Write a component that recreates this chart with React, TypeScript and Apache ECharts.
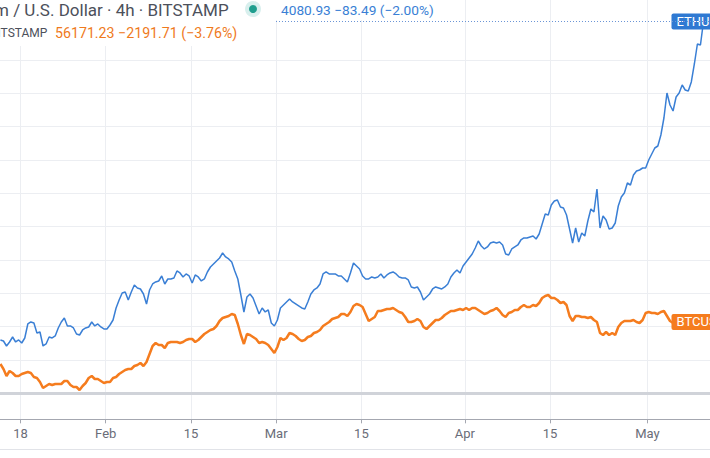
import React, { useEffect, useRef } from 'react';
import * as echarts from 'echarts';

// x values are day-of-year 2021 (Jan 1 = 1); y values are % units on the comparison scale
const START_DAY = 14.7;
const STEP_DAYS = 0.5;
const X_MIN = 14.63;
const X_MAX = 131.27;
const Y_MAX = 236;

const TICK_DAYS = [18, 32, 46, 60, 74, 91, 105, 121];
const TICK_LABELS = ['18', 'Feb', '15', 'Mar', '15', 'Apr', '15', 'May'];

const ETH = [
  32.0, 31.4, 28.4, 30.8, 33.8, 30.8, 32.0, 30.2, 33.2, 41.6,
  42.8, 42.2, 36.2, 36.8, 28.4, 29.6, 33.8, 33.2, 34.4, 39.2,
  42.8, 45.2, 40.4, 40.4, 39.2, 35.6, 35.0, 38.0, 39.2, 39.8,
  42.8, 40.4, 41.6, 39.8, 38.6, 38.6, 41.0, 44.0, 51.2, 56.0,
  60.2, 60.8, 56.0, 60.8, 65.0, 63.2, 62.6, 59.6, 53.6, 62.0,
  65.6, 66.8, 67.4, 70.4, 65.6, 68.6, 68.6, 69.2, 73.4, 72.2,
  69.8, 71.6, 70.4, 66.2, 71.0, 69.8, 67.4, 68.6, 72.8, 75.8,
  77.6, 79.4, 81.2, 84.2, 81.8, 80.6, 78.8, 73.4, 68.6, 59.0,
  48.8, 57.8, 59.6, 57.2, 52.4, 47.6, 51.2, 48.8, 50.0, 42.2,
  40.4, 44.0, 51.2, 53.0, 54.8, 56.6, 54.8, 53.6, 52.4, 51.2,
  50.6, 54.8, 59.6, 62.0, 63.2, 65.6, 71.6, 72.8, 71.6, 71.6,
  71.6, 70.4, 70.4, 68.6, 66.8, 72.2, 78.2, 76.4, 74.6, 70.4,
  68.6, 68.6, 69.8, 69.2, 69.8, 71.6, 69.2, 71.0, 72.2, 72.8,
  71.6, 69.8, 69.2, 69.2, 68.0, 63.8, 63.2, 63.8, 60.8, 56.0,
  57.8, 59.6, 62.6, 63.8, 63.2, 62.6, 63.8, 65.6, 69.8, 72.2,
  74.0, 72.2, 76.4, 78.8, 81.2, 83.6, 87.2, 91.4, 88.4, 86.6,
  87.8, 90.2, 90.8, 90.2, 90.8, 89.0, 83.6, 83.0, 86.6, 87.8,
  89.0, 92.0, 93.2, 93.2, 93.8, 94.4, 92.6, 95.6, 101.6, 107.6,
  107.0, 113.0, 115.4, 116.0, 111.8, 111.2, 107.0, 98.6, 90.2, 99.2,
  90.8, 96.2, 94.4, 103.4, 110.6, 108.8, 122.6, 99.2, 106.4, 104.0,
  98.6, 99.2, 102.2, 112.4, 117.8, 120.2, 126.2, 125.0, 131.0, 133.4,
  134.0, 135.2, 135.2, 140.0, 143.6, 147.2, 148.4, 155.0, 165.2, 180.2,
  173.0, 169.4, 177.8, 180.2, 185.0, 182.0, 181.4, 186.8, 197.6, 209.6,
  209.0, 223.1,
];

const BTC = [
  17.6, 14.6, 10.4, 13.4, 12.2, 10.4, 10.4, 11.6, 12.2, 12.8,
  12.2, 9.8, 9.2, 6.8, 3.2, 4.4, 5.6, 5.0, 5.6, 5.6,
  5.6, 7.4, 7.4, 5.0, 3.8, 3.8, 2.0, 4.4, 6.2, 9.2,
  10.4, 8.6, 8.6, 7.4, 6.2, 6.8, 6.8, 9.2, 9.8, 11.6,
  12.8, 14.0, 14.6, 14.6, 16.4, 17.0, 18.2, 16.4, 18.8, 23.6,
  28.4, 30.2, 29.0, 29.0, 27.2, 30.2, 30.8, 30.8, 30.8, 30.2,
  30.8, 32.0, 32.6, 32.6, 30.8, 32.0, 33.8, 35.6, 36.8, 38.0,
  38.6, 40.4, 43.4, 45.2, 45.8, 46.4, 47.6, 47.0, 41.6, 35.0,
  29.6, 35.6, 35.0, 33.8, 32.6, 30.2, 30.8, 30.2, 29.0, 26.6,
  24.2, 27.8, 33.2, 32.0, 33.2, 36.2, 35.6, 34.4, 32.6, 31.4,
  32.0, 33.8, 34.4, 36.2, 36.8, 38.0, 40.4, 41.6, 42.8, 44.6,
  45.2, 45.8, 47.6, 47.6, 46.4, 48.8, 52.4, 53.6, 53.0, 51.8,
  47.6, 43.4, 44.6, 45.8, 49.4, 49.4, 50.0, 50.6, 50.6, 51.2,
  50.0, 48.8, 48.2, 45.8, 42.8, 42.8, 43.4, 44.6, 43.4, 39.8,
  38.6, 40.4, 42.2, 44.0, 44.0, 45.2, 47.0, 48.2, 49.4, 49.4,
  50.0, 50.6, 50.0, 51.2, 50.0, 51.2, 51.2, 50.0, 48.8, 47.6,
  48.2, 49.4, 50.0, 51.2, 49.4, 47.0, 45.8, 48.2, 48.8, 50.0,
  50.0, 51.8, 53.0, 51.8, 51.8, 53.0, 52.4, 54.2, 57.2, 58.4,
  59.0, 57.2, 57.2, 56.0, 54.2, 54.8, 53.0, 46.4, 43.4, 46.4,
  46.4, 45.8, 45.8, 45.2, 45.8, 44.0, 42.8, 36.2, 35.0, 36.8,
  35.0, 36.2, 35.0, 39.8, 42.2, 43.4, 43.4, 43.4, 44.0, 42.8,
  42.2, 44.0, 48.2, 48.8, 48.2, 48.2, 47.6, 48.8, 49.4, 46.4,
  43.4, 42.2, 42.8, 43.4, 42.8, 43.4, 42.8, 42.8, 43.4, 42.8,
  42.8, 42.8,
];

const TITLE_TEXT = 'm / U.S. Dollar · 4h · BITSTAMP';
const ETH_LEGEND = '4080.93 −83.49 (−2.00%)';
const BTC_SOURCE = 'BITSTAMP';
const BTC_LEGEND = '56171.23 −2191.71 (−3.76%)';

const ETH_COLOR = '#3a7fd5';
const BTC_COLOR = '#f57c1e';
const GRID_COLOR = '#eceef2';
const FONT = 'Roboto, "Noto Sans", sans-serif';

export default function App() {
  const ref = useRef<HTMLDivElement>(null);

  useEffect(() => {
    if (!ref.current) return;
    const chart = echarts.init(ref.current, null, { renderer: 'svg' });
    const toPts = (arr: number[]) => arr.map((v, i) => [START_DAY + i * STEP_DAYS, v]);
    const hColors: string[] = [];
    for (let i = 0; i < 12; i++) hColors.push(i === 11 ? 'transparent' : GRID_COLOR);
    const tickFmt = (v: number) => {
      const idx = TICK_DAYS.indexOf(Math.round(v));
      return idx >= 0 ? TICK_LABELS[idx] : '';
    };
    const endLabelBase = {
      show: true, color: '#ffffff', padding: [1, 5, 0, 5], fontSize: 13, lineHeight: 15,
      fontFamily: FONT, borderRadius: 2, offset: [-40, 0],
    };

    chart.setOption({
      animation: false,
      backgroundColor: '#ffffff',
      grid: [
        { left: 0, right: 0, top: 0, height: 393.33, containLabel: false },
        { left: 0, right: 0, top: 393.33, height: 26, containLabel: false },
      ],
      xAxis: [
        {
          type: 'value', gridIndex: 0, min: X_MIN, max: X_MAX, position: 'bottom',
          axisLine: { show: true, onZero: false, lineStyle: { color: '#d0d3d9', width: 3 } },
          axisTick: { show: false, customValues: TICK_DAYS },
          axisLabel: { show: false, customValues: TICK_DAYS },
          splitLine: { show: true, lineStyle: { color: GRID_COLOR, width: 1 } },
        },
        {
          type: 'value', gridIndex: 1, min: X_MIN, max: X_MAX, position: 'bottom',
          axisLine: { show: true, onZero: false, lineStyle: { color: '#a4a7b0', width: 1 } },
          axisTick: { show: true, length: 4, customValues: TICK_DAYS, lineStyle: { color: '#a4a7b0' } },
          axisLabel: {
            show: true, customValues: TICK_DAYS, formatter: tickFmt,
            color: '#6a6d78', fontSize: 13, fontFamily: FONT, margin: 8,
          },
          splitLine: { show: true, lineStyle: { color: GRID_COLOR, width: 1 } },
        },
      ],
      yAxis: [
        {
          type: 'value', gridIndex: 0, min: 0, max: Y_MAX, interval: 20,
          axisLine: { show: false }, axisTick: { show: false }, axisLabel: { show: false },
          splitLine: { show: true, showMaxLine: false, lineStyle: { color: hColors, width: 1 } },
        },
        {
          type: 'value', gridIndex: 1, min: 0, max: 1, show: false,
          splitLine: { show: false },
        },
      ],
      series: [
        {
          type: 'line', name: 'BTCUSD', xAxisIndex: 0, yAxisIndex: 0,
          data: toPts(BTC), symbol: 'none', showSymbol: false, z: 3,
          lineStyle: { color: BTC_COLOR, width: 2.5 }, itemStyle: { color: BTC_COLOR },
          emphasis: { disabled: true },
          endLabel: { ...endLabelBase, formatter: 'BTCUSD', backgroundColor: BTC_COLOR },
        },
        {
          type: 'line', name: 'ETHUSD', xAxisIndex: 0, yAxisIndex: 0,
          data: toPts(ETH), symbol: 'none', showSymbol: false, z: 4,
          lineStyle: { color: ETH_COLOR, width: 1.5 }, itemStyle: { color: ETH_COLOR },
          emphasis: { disabled: true },
          endLabel: { ...endLabelBase, formatter: 'ETHUSD', backgroundColor: '#2f79d2' },
          markLine: {
            silent: true, symbol: ['none', 'none'], label: { show: false },
            lineStyle: { type: [1, 2], color: '#6b95d6', width: 1 },
            data: [{ yAxis: ETH[ETH.length - 1] }],
          },
        },
      ],
      graphic: [
        { type: 'rect', z: 100, silent: true, shape: { x: 0, y: 0, width: 445, height: 20 }, style: { fill: '#ffffff' } },
        { type: 'rect', z: 100, silent: true, shape: { x: 0, y: 20, width: 274, height: 26 }, style: { fill: '#ffffff' } },
        { type: 'text', z: 101, x: -6, y: 9.5, style: { text: TITLE_TEXT, font: `17px ${FONT}`, fill: '#4c505b', verticalAlign: 'middle' } },
        { type: 'circle', z: 101, shape: { cx: 253, cy: 9, r: 8 }, style: { fill: 'rgba(38,166,154,0.18)' } },
        { type: 'circle', z: 102, shape: { cx: 253, cy: 9, r: 4 }, style: { fill: '#1f9e8e' } },
        { type: 'text', z: 101, x: 281, y: 9.5, style: { text: ETH_LEGEND, font: `13.7px ${FONT}`, fill: ETH_COLOR, verticalAlign: 'middle' } },
        { type: 'text', z: 101, x: -10, y: 33, style: { text: BTC_SOURCE, font: `12px ${FONT}`, fill: '#4c505b', verticalAlign: 'middle' } },
        { type: 'text', z: 101, x: 55, y: 33, style: { text: BTC_LEGEND, font: `14.2px ${FONT}`, fill: '#ef7a1c', verticalAlign: 'middle' } },
        { type: 'line', z: 100, silent: true, shape: { x1: 0, y1: 449.5, x2: 710, y2: 449.5 }, style: { stroke: '#e1e3e8', lineWidth: 1 } },
      ],
    });
    return () => chart.dispose();
  }, []);

  return (
    <div
      ref={ref}
      style={{ position: 'absolute', left: 0, top: 0, width: 710, height: 458, background: '#ffffff' }}
    />
  );
}
